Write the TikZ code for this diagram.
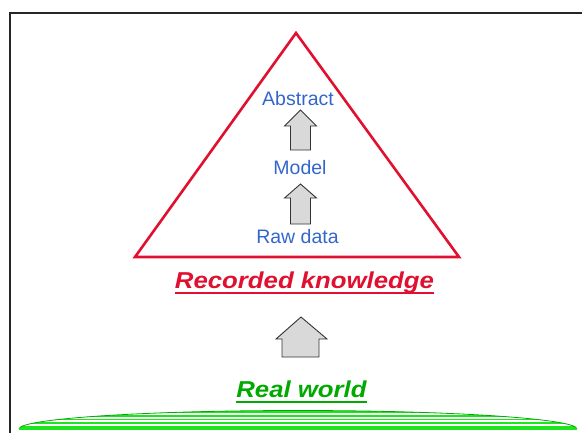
\documentclass[tikz,border=0pt]{standalone}
\usepackage{fontspec}
\setmainfont{Liberation Sans}
\definecolor{tri}{RGB}{224,16,48}
\definecolor{lvl}{RGB}{51,102,204}
\definecolor{world}{RGB}{0,170,0}
\definecolor{grass}{RGB}{30,230,30}
\definecolor{arrowfill}{RGB}{217,217,217}
\begin{document}
\begin{tikzpicture}[x=1pt,y=-1pt,
  level/.style={text=lvl,font=\fontsize{19.5}{20}\selectfont,inner sep=0pt,anchor=base},
  title/.style={font=\fontsize{23}{24}\selectfont\bfseries\itshape,inner sep=0pt,anchor=base,xscale=1.12},
  blockarrow/.style={draw=black!80,fill=arrowfill,line width=0.9pt,line join=miter},
  uline/.style={line width=2pt}]
\useasboundingbox (0,0) rectangle (582,432);
% outer frame (runs past the right and bottom edges)
\draw[line width=1.3pt,black!85] (10,440) -- (10,13) -- (590,13);

% knowledge pyramid
\coordinate (apex) at (296,33);
\coordinate (bl) at (135,257);
\coordinate (br) at (459,257);
\draw[tri,line width=2.6pt,line join=miter] (apex) -- (br) -- (bl) -- cycle;

% levels of recorded knowledge
\node[level] (abstract) at (298,105) {Abstract};
\node[level] (model) at (300,174) {Model};
\node[level] (raw) at (297.5,243) {Raw data};

% small block arrows between the levels
\draw[blockarrow] (300.5,110) -- (316.5,126) -- (310.5,126) -- (310.5,150) -- (290.5,150) -- (290.5,126) -- (284.5,126) -- cycle;
\draw[blockarrow] (300.5,184) -- (316.5,198) -- (310.5,198) -- (310.5,224) -- (290.5,224) -- (290.5,198) -- (284.5,198) -- cycle;

% recorded knowledge title
\node[title,text=tri] (rk) at (304.5,288) {Recorded knowledge};
\draw[uline,tri] ([yshift=-4.5pt]rk.base west) -- ([yshift=-4.5pt]rk.base east);

% big block arrow from the real world
\draw[blockarrow] (301,317) -- (327,339) -- (319,339) -- (319,357) -- (282,357) -- (282,339) -- (276,339) -- cycle;

% real world title
\node[title,text=world] (rw) at (301.5,397) {Real world};
\draw[uline,world] ([yshift=-4.5pt]rw.base west) -- ([yshift=-4.5pt]rw.base east);

% the ground: a flat dome hatched with green lines
\begin{scope}
  \clip (19,429) arc[start angle=180,end angle=360,x radius=279,y radius=18.5] -- cycle;
  \foreach \yy in {412,415.7,419.4,423.1,426.8}
    \draw[grass,line width=1.6pt] (0,\yy) -- (582,\yy);
\end{scope}
\draw[world,line width=0.8pt] (19,429) arc[start angle=180,end angle=360,x radius=279,y radius=18.5];
\draw[grass,line width=1.6pt] (19,429) -- (577,429);
\end{tikzpicture}
\end{document}
